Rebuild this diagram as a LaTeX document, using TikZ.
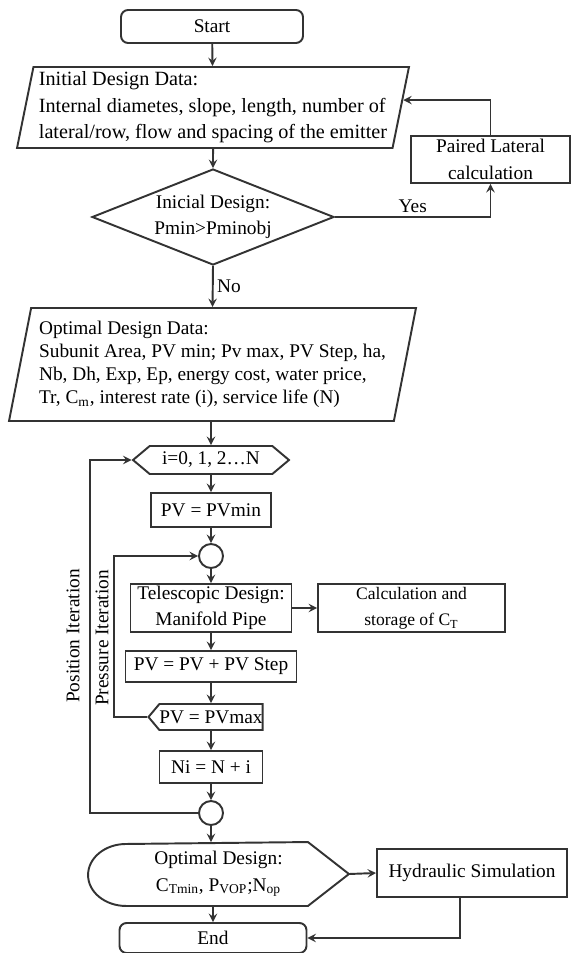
\documentclass[tikz,border=0pt]{standalone}
\usepackage{fontspec}
\setmainfont{Liberation Serif}
\usetikzlibrary{shapes.geometric,shapes.symbols,calc}

\begin{document}
\begin{tikzpicture}[x=0.02cm, y=-0.02cm, font=\fontsize{11}{15}\selectfont]
                \useasboundingbox (0,0) rectangle (571,953);
                \begin{scope}[every node/.style={draw=black!80, line width=1.1pt, inner sep=1pt, align=center}]
                        \node[rounded corners=4pt, minimum width=3.64cm, minimum height=0.66cm] (start) at (212,26.5) {Start};
                        \node[trapezium, trapezium left angle=77, trapezium right angle=103, trapezium stretches body, minimum width=7.84cm, minimum height=1.62cm, inner sep=0pt, align=left, font=\fontsize{11.5}{15}\selectfont] (init) at (213,107.5) {Initial Design Data:\\Internal diametes, slope, length, number of\\lateral/row, flow and spacing of the emitter};
                        \node[minimum width=3.18cm, minimum height=0.94cm] (paired) at (490.5,159.5) {Paired Lateral\\calculation};
                        \node[diamond, aspect=2.5, inner sep=0pt, minimum width=4.84cm, minimum height=1.92cm] (dec) at (213,217) {Inicial Design:\\Pmin>Pminobj};
                        \node[trapezium, trapezium left angle=75.6, trapezium right angle=104.4, trapezium stretches body, minimum width=8.14cm, minimum height=2.26cm, inner sep=0pt, align=left, font=\fontsize{11}{13}\selectfont] (optdata) at (212.5,364.5) {Optimal Design Data:\\Subunit Area, PV min; Pv max, PV Step, ha,\\Nb, Dh, Exp, Ep, energy cost, water price,\\Tr, C\textsubscript{m}, interest rate (i), service life (N)};
                        \node[signal, signal to=west and east, signal pointer angle=80, minimum width=3.12cm, minimum height=0.56cm, inner sep=0pt] (loopi) at (211,460) {i=0, 1, 2…N};
                        \node[minimum width=2.4cm, minimum height=0.68cm] (pvmin) at (211,510) {PV = PVmin};
                        \node[circle, minimum size=0.48cm, inner sep=0pt] (join1) at (211,556) {};
                        \node[minimum width=3.22cm, minimum height=0.96cm] (tele) at (211,608) {Telescopic Design:\\Manifold Pipe};
                        \node[minimum width=3.74cm, minimum height=0.96cm, font=\fontsize{10}{15}\selectfont] (calc) at (411.5,608) {Calculation and\\storage of C\textsubscript{T}};
                        \node[minimum width=3.42cm, minimum height=0.62cm] (pvstep) at (211,666.5) {PV = PV + PV Step};
                        \node[signal, signal to=west, signal pointer angle=100, minimum width=2.26cm, minimum height=0.52cm, inner sep=0pt] (pvmax) at (211,717) {PV = PVmax};
                        \node[minimum width=2.06cm, minimum height=0.64cm] (ni) at (211,767) {Ni = N + i};
                        \node[circle, minimum size=0.48cm, inner sep=0pt] (join2) at (211,813) {};
                        \node[draw=none, minimum width=5.18cm, minimum height=1.24cm] (optimal) at (218.5,874) {Optimal Design:\\C\textsubscript{Tmin}, P\textsubscript{VOP};N\textsubscript{op}};
                        \node[minimum width=3.8cm, minimum height=0.96cm] (hydro) at (472,873) {Hydraulic Simulation};
                        \node[rounded corners=4pt, minimum width=3.74cm, minimum height=0.6cm] (end) at (213,938) {End};
                \end{scope}
                \draw[draw=black!80, line width=1.1pt] ([xshift=-0.82cm]optimal.north east) -- (optimal.east) -- ([xshift=-0.82cm]optimal.south east) -- ([xshift=0.76cm]optimal.south west) arc[start angle=270, end angle=90, x radius=0.76cm, y radius=0.62cm] -- cycle;
                \coordinate (posline) at (90,0);
                \coordinate (presline) at (114,0);
                \node[rotate=90] (poslabel) at (73,636) {Position Iteration};
                \node[rotate=90] (preslabel) at (102,638) {Pressure Iteration};
                \begin{scope}[every node/.style={inner sep=2pt}, every path/.style={draw=black!80, line width=1.1pt, ->, >=stealth}]
                        \path (start) edge (init);
                        \path (init) edge (dec);
                        \draw (dec.east) -| node[pos=0.25, above] {Yes} (paired.south);
                        \draw (paired.north) |- ($(init.top right corner)!0.41!(init.bottom right corner)$);
                        \draw (dec.south) -- node[right] {No} (optdata.north);
                        \draw (optdata.south -| loopi) -- (loopi.north);
                        \path (loopi) edge (pvmin);
                        \path (pvmin) edge (join1);
                        \path (join1) edge (tele);
                        \path (tele) edge (calc);
                        \path (tele) edge (pvstep);
                        \path (pvstep) edge (pvmax);
                        \path (pvmax) edge (ni);
                        \path (ni) edge (join2);
                        \draw (pvmax.west) -- (pvmax.west -| presline) |- (join1.west);
                        \draw (join2.west) -- (join2.west -| posline) |- (loopi.west);
                        \draw (join2.south) -- (join2.south |- optimal.north);
                        \draw (optimal.east) -- (hydro.west);
                        \draw (end.north |- optimal.south) -- (end.north);
                        \draw ([xshift=-0.24cm]hydro.south) |- (end.east);
                \end{scope}
        \end{tikzpicture}
\end{document}
